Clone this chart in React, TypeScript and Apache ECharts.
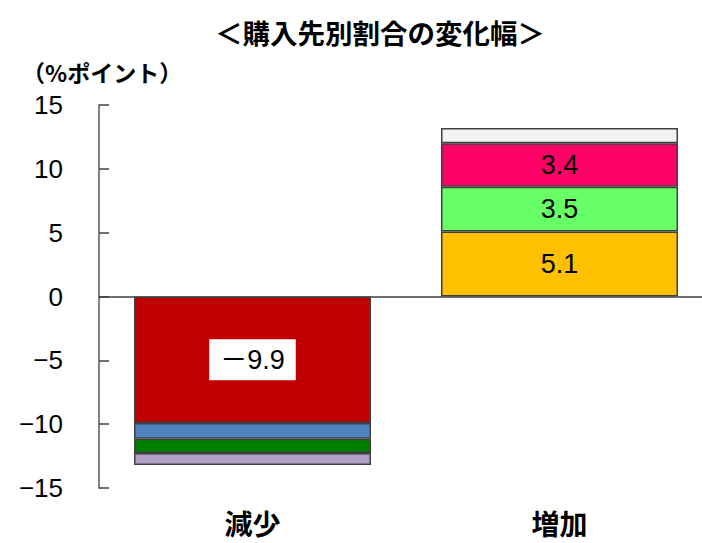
import React, { useEffect, useRef } from "react";
import * as echarts from "echarts";

const categories = ["減少", "増加"];
const decreaseValues = [-9.9, -1.25, -1.1, -0.95];
const increaseValues = [5.1, 3.5, 3.4, 1.2];
const decreaseColors = ["#c00000", "#4f81bd", "#008000", "#b3a2c7"];
const increaseColors = ["#ffc000", "#66ff66", "#ff0066", "#f2f2f2"];
const decreaseLabels = ["－9.9", "", "", ""];
const increaseLabels = ["5.1", "3.5", "3.4", ""];
const yTicks = { min: -15, max: 15, interval: 5 };
const titleText = "＜購入先別割合の変化幅＞";
const unitText = "（%ポイント）";

const NUM_FONT = "'Liberation Sans', Arial, 'Noto Sans CJK JP', sans-serif";
const CJK_FONT = "'Noto Sans CJK JP', sans-serif";

export default function App() {
  const ref = useRef<HTMLDivElement>(null);
  useEffect(() => {
    if (!ref.current) return;
    const chart = echarts.init(ref.current, undefined, { renderer: "svg" });
    const series: any[] = [];
    decreaseValues.forEach((v, i) => {
      series.push({
        type: "bar",
        stack: "total",
        barWidth: 237,
        data: [v, null],
        itemStyle: { color: decreaseColors[i], borderColor: "#404040", borderWidth: 1.5 },
        label: {
          show: decreaseLabels[i] !== "",
          position: "inside",
          formatter: () => decreaseLabels[i],
          color: "#000",
          fontSize: 27,
          fontFamily: NUM_FONT,
          backgroundColor: "#ffffff",
          padding: [8, 11, 6, 11],
        },
      });
    });
    increaseValues.forEach((v, i) => {
      series.push({
        type: "bar",
        stack: "total",
        barWidth: 237,
        data: [null, v],
        itemStyle: { color: increaseColors[i], borderColor: "#404040", borderWidth: 1.5 },
        label: {
          show: increaseLabels[i] !== "",
          position: "inside",
          formatter: () => increaseLabels[i],
          color: "#000",
          fontSize: 27,
          fontFamily: NUM_FONT,
        },
      });
    });
    series[0].markLine = {
      silent: true,
      symbol: "none",
      label: { show: false },
      lineStyle: { color: "#404040", width: 1.5, type: "solid" },
      data: [{ yAxis: 0 }],
    };
    chart.setOption({
      animation: false,
      grid: { left: 99, top: 105, bottom: 55, width: 614, outerBoundsMode: "none", containLabel: false },
      graphic: [
        {
          type: "text",
          x: 380,
          y: 32,
          style: {
            text: titleText,
            fontSize: 27.5,
            fontWeight: "bold",
            fontFamily: CJK_FONT,
            fill: "#000",
            align: "center",
            verticalAlign: "middle",
          },
        },
        {
          type: "text",
          x: 22,
          y: 72,
          style: {
            text: unitText,
            fontSize: 23,
            fontWeight: "bold",
            fontFamily: CJK_FONT,
            fill: "#000",
            align: "left",
            verticalAlign: "middle",
          },
        },
      ],
      xAxis: {
        type: "category",
        data: categories,
        axisLine: { show: false, onZero: false },
        axisTick: { show: false },
        axisLabel: {
          margin: 21,
          fontSize: 28,
          lineHeight: 28,
          fontWeight: "bold",
          fontFamily: CJK_FONT,
          color: "#000",
        },
      },
      yAxis: {
        type: "value",
        min: yTicks.min,
        max: yTicks.max,
        interval: yTicks.interval,
        splitLine: { show: false },
        axisLine: { show: true, lineStyle: { color: "#595959", width: 1.5 } },
        axisTick: { show: true, inside: true, length: 10, lineStyle: { color: "#404040", width: 1.5 } },
        axisLabel: {
          margin: 36,
          fontSize: 26,
          fontFamily: NUM_FONT,
          color: "#000",
          formatter: (v: number) => (v < 0 ? "−" + Math.abs(v) : String(v)),
        },
      },
      series,
    });
    return () => chart.dispose();
  }, []);
  return (
    <div
      ref={ref}
      style={{ position: "absolute", left: 0, top: 0, width: 702, height: 543, background: "#fff" }}
    />
  );
}
